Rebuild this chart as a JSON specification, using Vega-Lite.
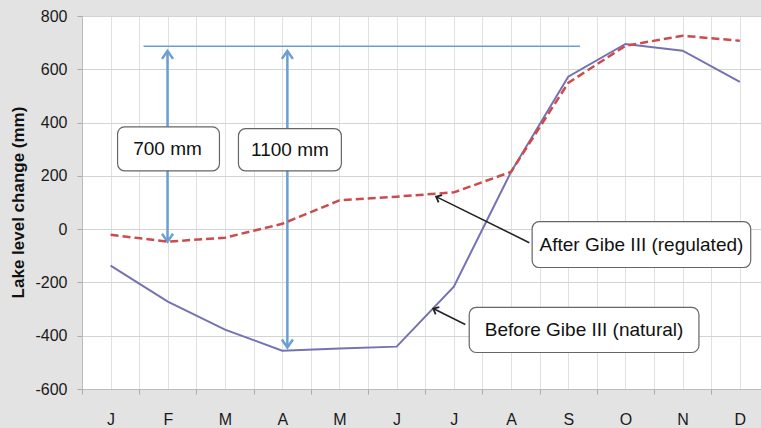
{
  "$schema": "https://vega.github.io/schema/vega-lite/v6.json",
  "width": 679,
  "height": 373,
  "autosize": {"type": "none"},
  "padding": {"left": 82, "top": 16, "right": 0, "bottom": 39},
  "background": "#e3e3e3",
  "config": {
    "view": {"stroke": null, "fill": "#ffffff"},
    "font": "Liberation Sans"
  },
  "datasets": {
    "levels": [
      {"month": 1, "series": "Before", "value": -137},
      {"month": 2, "series": "Before", "value": -272},
      {"month": 3, "series": "Before", "value": -377},
      {"month": 4, "series": "Before", "value": -456},
      {"month": 5, "series": "Before", "value": -448},
      {"month": 6, "series": "Before", "value": -441},
      {"month": 7, "series": "Before", "value": -216},
      {"month": 8, "series": "Before", "value": 215},
      {"month": 9, "series": "Before", "value": 572},
      {"month": 10, "series": "Before", "value": 695},
      {"month": 11, "series": "Before", "value": 670},
      {"month": 12, "series": "Before", "value": 553},
      {"month": 1, "series": "After", "value": -21},
      {"month": 2, "series": "After", "value": -47},
      {"month": 3, "series": "After", "value": -32},
      {"month": 4, "series": "After", "value": 20},
      {"month": 5, "series": "After", "value": 108},
      {"month": 6, "series": "After", "value": 122},
      {"month": 7, "series": "After", "value": 138},
      {"month": 8, "series": "After", "value": 215},
      {"month": 9, "series": "After", "value": 549},
      {"month": 10, "series": "After", "value": 688},
      {"month": 11, "series": "After", "value": 726},
      {"month": 12, "series": "After", "value": 707}
    ],
    "blueRules": [
      {"x": 1.576, "x2": 9.207, "y": 686, "y2": 686, "w": "thin"},
      {"x": 1.995, "x2": 1.995, "y": -47, "y2": 669, "w": "thick"},
      {"x": 4.09, "x2": 4.09, "y": -444, "y2": 669, "w": "thick"}
    ],
    "blueHeads": [
      {"x": 1.995, "y": 669, "dir": 0},
      {"x": 1.995, "y": -47, "dir": 180},
      {"x": 4.09, "y": 669, "dir": 0},
      {"x": 4.09, "y": -444, "dir": 180}
    ],
    "pointers": [
      {"x": 8.32, "y": -51, "x2": 6.69, "y2": 122, "dir": 296},
      {"x": 7.2, "y": -358, "x2": 6.64, "y2": -298, "dir": 297}
    ],
    "boxes": [
      {"label": "700 mm", "x": 1.122, "x2": 2.903, "y": 384, "y2": 219, "tx": 1.995, "ty": 301},
      {"label": "1100 mm", "x": 3.235, "x2": 5.034, "y": 377, "y2": 219, "tx": 4.135, "ty": 298},
      {"label": "After Gibe III (regulated)", "x": 8.369, "x2": 12.19, "y": 28, "y2": -144, "tx": 10.28, "ty": -58},
      {"label": "Before Gibe III (natural)", "x": 7.269, "x2": 11.285, "y": -294, "y2": -463, "tx": 9.277, "ty": -378}
    ]
  },
  "layer": [
    {
      "data": {"name": "blueRules"},
      "mark": {"type": "rule", "color": "#6b9fd3"},
      "encoding": {
        "x": {
          "field": "x", "type": "quantitative",
          "scale": {"domain": [0.5, 12.37], "nice": false, "zero": false},
          "axis": {
            "title": null,
            "values": [0.5, 1, 1.5, 2, 2.5, 3, 3.5, 4, 4.5, 5, 5.5, 6, 6.5, 7, 7.5, 8, 8.5, 9, 9.5, 10, 10.5, 11, 11.5, 12],
            "tickCount": 100,
            "labelExpr": "datum.value % 1 == 0 ? substring('JFMAMJJASOND', datum.value - 1, datum.value) : ''",
            "labelOverlap": false,
            "labelFlush": false,
            "labelFontSize": 16,
            "labelColor": "#1a1a1a",
            "labelPadding": 17,
            "tickSize": 5,
            "tickColor": "#aaaaaa",
            "tickOpacity": {"condition": {"test": "datum.value % 1 == 0", "value": 0}, "value": 1},
            "grid": true,
            "gridColor": "#e0e0e0",
            "domain": true,
            "domainColor": "#bbbbbb"
          }
        },
        "x2": {"field": "x2"},
        "y": {
          "field": "y", "type": "quantitative",
          "scale": {"domain": [-600, 800], "nice": false, "zero": false},
          "axis": {
            "title": "Lake level change (mm)",
            "titleFontSize": 17,
            "titleFontWeight": "bold",
            "titleColor": "#111111",
            "titleX": -64,
            "titleY": 186,
            "titleAngle": -90,
            "titleAlign": "center",
            "titleBaseline": "middle",
            "values": [-600, -400, -200, 0, 200, 400, 600, 800],
            "labelExpr": "datum.value < 0 ? '-' + abs(datum.value) : '' + datum.value",
            "labelFontSize": 16,
            "labelColor": "#1a1a1a",
            "labelPadding": 10,
            "tickSize": 5,
            "tickColor": "#aaaaaa",
            "grid": true,
            "gridColor": "#d3d3d3",
            "domain": true,
            "domainColor": "#bbbbbb"
          }
        },
        "y2": {"field": "y2"},
        "strokeWidth": {
          "field": "w", "type": "nominal",
          "scale": {"domain": ["thin", "thick"], "range": [1.5, 2.5]},
          "legend": null
        }
      }
    },
    {
      "data": {"name": "blueHeads"},
      "mark": {"type": "point", "shape": "M-1,1.45L0,0L1,1.45", "filled": false, "stroke": "#6b9fd3", "strokeWidth": 2.5, "size": 121, "opacity": 1},
      "encoding": {
        "x": {"field": "x", "type": "quantitative"},
        "y": {"field": "y", "type": "quantitative"},
        "angle": {"field": "dir", "type": "quantitative", "scale": null}
      }
    },
    {
      "data": {"name": "levels"},
      "transform": [{"filter": "datum.series == 'Before'"}],
      "mark": {"type": "line", "color": "#7572b3", "strokeWidth": 2},
      "encoding": {
        "x": {"field": "month", "type": "quantitative"},
        "y": {"field": "value", "type": "quantitative"}
      }
    },
    {
      "data": {"name": "levels"},
      "transform": [{"filter": "datum.series == 'After'"}],
      "mark": {"type": "line", "color": "#cc4b4b", "strokeWidth": 2.5, "strokeDash": [8, 4]},
      "encoding": {
        "x": {"field": "month", "type": "quantitative"},
        "y": {"field": "value", "type": "quantitative"}
      }
    },
    {
      "data": {"name": "pointers"},
      "mark": {"type": "rule", "color": "#222222", "strokeWidth": 1.5},
      "encoding": {
        "x": {"field": "x", "type": "quantitative"},
        "x2": {"field": "x2"},
        "y": {"field": "y", "type": "quantitative"},
        "y2": {"field": "y2"}
      }
    },
    {
      "data": {"name": "pointers"},
      "mark": {"type": "point", "shape": "M-1,1.2L0,0L1,1.2", "filled": false, "stroke": "#222222", "strokeWidth": 1.8, "size": 64, "opacity": 1},
      "encoding": {
        "x": {"field": "x2", "type": "quantitative"},
        "y": {"field": "y2", "type": "quantitative"},
        "angle": {"field": "dir", "type": "quantitative", "scale": null}
      }
    },
    {
      "data": {"name": "boxes"},
      "mark": {"type": "rect", "fill": "#ffffff", "stroke": "#666666", "strokeWidth": 1.2, "cornerRadius": 7},
      "encoding": {
        "x": {"field": "x", "type": "quantitative"},
        "x2": {"field": "x2"},
        "y": {"field": "y", "type": "quantitative"},
        "y2": {"field": "y2"}
      }
    },
    {
      "data": {"name": "boxes"},
      "mark": {"type": "text", "fontSize": 19, "color": "#111111", "align": "center", "baseline": "middle", "font": "Liberation Sans"},
      "encoding": {
        "x": {"field": "tx", "type": "quantitative"},
        "y": {"field": "ty", "type": "quantitative"},
        "text": {"field": "label", "type": "nominal"}
      }
    }
  ]
}
